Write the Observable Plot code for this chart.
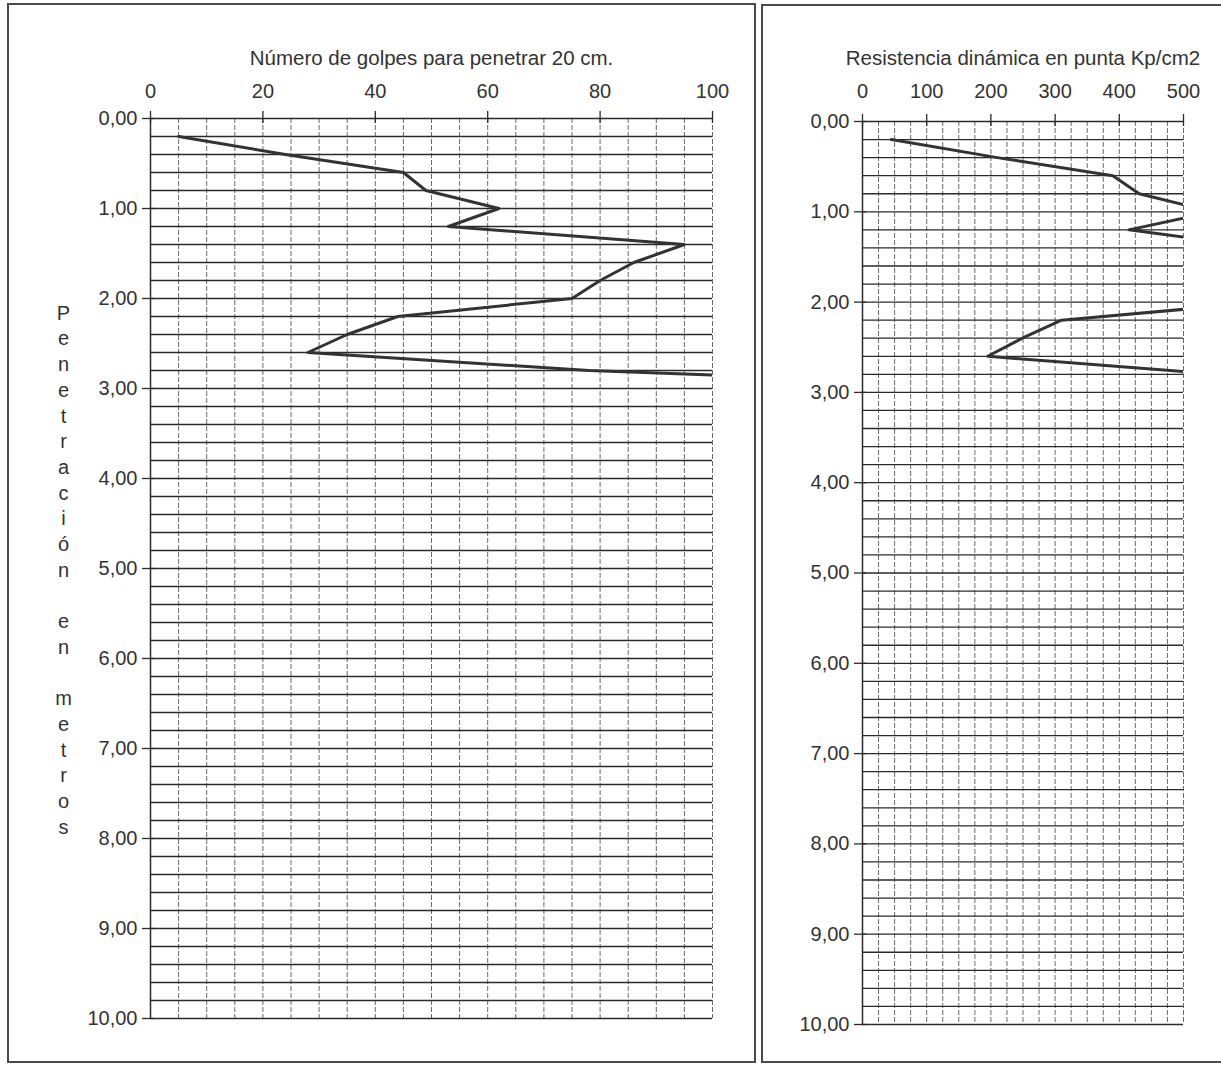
<!DOCTYPE html>
<html><head><meta charset="utf-8">
<script src="https://cdn.jsdelivr.net/npm/d3@7"></script>
<script src="https://cdn.jsdelivr.net/npm/@observablehq/plot@0.6"></script>
<style>
body{margin:0;background:#fff;}
#page{position:relative;width:1221px;height:1067px;overflow:hidden;background:#fff;}
.box{position:absolute;border:2px solid #4a4a4a;box-sizing:border-box;}
#left{position:absolute;left:0;top:0;}
#right{position:absolute;left:760px;top:0;}
</style></head><body>
<div id="page">
<div class="box" style="left:7px;top:3px;width:749px;height:1060px;"></div>
<div class="box" style="left:761px;top:4px;width:480px;height:1059px;border-right:none;"></div>
<div id="left"></div><div id="right"></div>
</div>
<script>
// Depths of each reading (m)
const depth = [0.2, 0.4, 0.6, 0.8, 1.0, 1.2, 1.4, 1.6, 1.8, 2.0, 2.2, 2.4, 2.6, 2.8, 3.0];
// Number of blows to penetrate 20 cm
const blows = [5, 24, 45, 49, 62, 53, 95, 86, 80, 75, 44, 35, 28, 78, 165];
// Dynamic point resistance (Kp/cm2)
const resistance = [45, 210, 390, 431, 545, 415, 630, 645, 615, 627, 310, 249, 195, 555, 1155];

const depthTicks = [0, 1, 2, 3, 4, 5, 6, 7, 8, 9, 10];
const depthGrid = [0,0.2,0.4,0.6,0.8,1,1.2,1.4,1.6,1.8,2,2.2,2.4,2.6,2.8,3,3.2,3.4,3.6,3.8,4,4.2,4.4,4.6,4.8,5,5.2,5.4,5.6,5.8,6,6.2,6.4,6.6,6.8,7,7.2,7.4,7.6,7.8,8,8.2,8.4,8.6,8.8,9,9.2,9.4,9.6,9.8,10];
const blowTicks = [0, 20, 40, 60, 80, 100];
const blowGrid = [0,5,10,15,20,25,30,35,40,45,50,55,60,65,70,75,80,85,90,95,100];
const resTicks = [0, 100, 200, 300, 400, 500];
const resGrid = [0,25,50,75,100,125,150,175,200,225,250,275,300,325,350,375,400,425,450,475,500];

const titleLeft = "Número de golpes para penetrar 20 cm.";
const titleRight = "Resistencia dinámica en punta Kp/cm2";
const yLabel = "Penetración en metros";

const rows = depth.map((d, i) => ({depth: d, blows: blows[i], res: resistance[i]}));
const fmt = d => d.toFixed(2).replace(".", ",");
const FONT = "'Liberation Sans', Arial, sans-serif";

function panel({width, ml, mr, mt, mb, domain, ticks, grid, key, title, ylabel, xPad}) {
  const marks = [
    Plot.ruleX(grid, {stroke: "#6a6a6a", strokeWidth: 1, strokeDasharray: "5,2"}),
    Plot.ruleY(depthGrid, {stroke: "#2a2a2a", strokeWidth: 1.3}),
    Plot.ruleX([domain[0]], {stroke: "#2a2a2a", strokeWidth: 1.5}),
    Plot.ruleX(ticks, {y1: 0, y2: 0, insetTop: -7, insetBottom: -5, stroke: "#2a2a2a", strokeWidth: 1.3}),
    Plot.ruleY(depthTicks, {x1: domain[0], x2: domain[0], insetLeft: -8, insetRight: -4, stroke: "#2a2a2a", strokeWidth: 1.3}),
    Plot.axisX(ticks, {anchor: "top", tickSize: 0, tickPadding: xPad, label: null, fontSize: 20, fill: "#333"}),
    Plot.axisY(depthTicks, {anchor: "left", tickSize: 0, tickPadding: 13, tickFormat: fmt, label: null, fontSize: 20, fill: "#333"}),
    Plot.line(rows, {x: key, y: "depth", stroke: "#333", strokeWidth: 3, clip: true}),
    Plot.text([title], {frameAnchor: "top", lineAnchor: "middle", dy: -(mt - 58), fontSize: 20.5, fill: "#333"})
  ];
  if (ylabel) {
    marks.push(Plot.text([ylabel.split("").join("\n")], {frameAnchor: "left", dx: -87, dy: 0, textAnchor: "middle", lineAnchor: "middle", lineHeight: 25.7 / 20, fontSize: 20, fill: "#333"}));
  }
  return Plot.plot({
    width, height: 1067,
    marginLeft: ml, marginRight: mr, marginTop: mt, marginBottom: mb,
    style: {fontFamily: FONT, fontSize: "20px", background: "transparent", color: "#333"},
    x: {domain, axis: null},
    y: {domain: [0, 10], reverse: true, axis: null},
    marks
  });
}

document.getElementById("left").appendChild(panel({
  width: 760, ml: 150, mr: 48, mt: 118, mb: 49,
  domain: [0, 100], ticks: blowTicks, grid: blowGrid, key: "blows",
  title: titleLeft, ylabel: yLabel, xPad: 21
}));
document.getElementById("right").appendChild(panel({
  width: 461, ml: 102, mr: 38, mt: 121, mb: 43,
  domain: [0, 500], ticks: resTicks, grid: resGrid, key: "res",
  title: titleRight, ylabel: null, xPad: 24
}));
</script>
</body></html>
